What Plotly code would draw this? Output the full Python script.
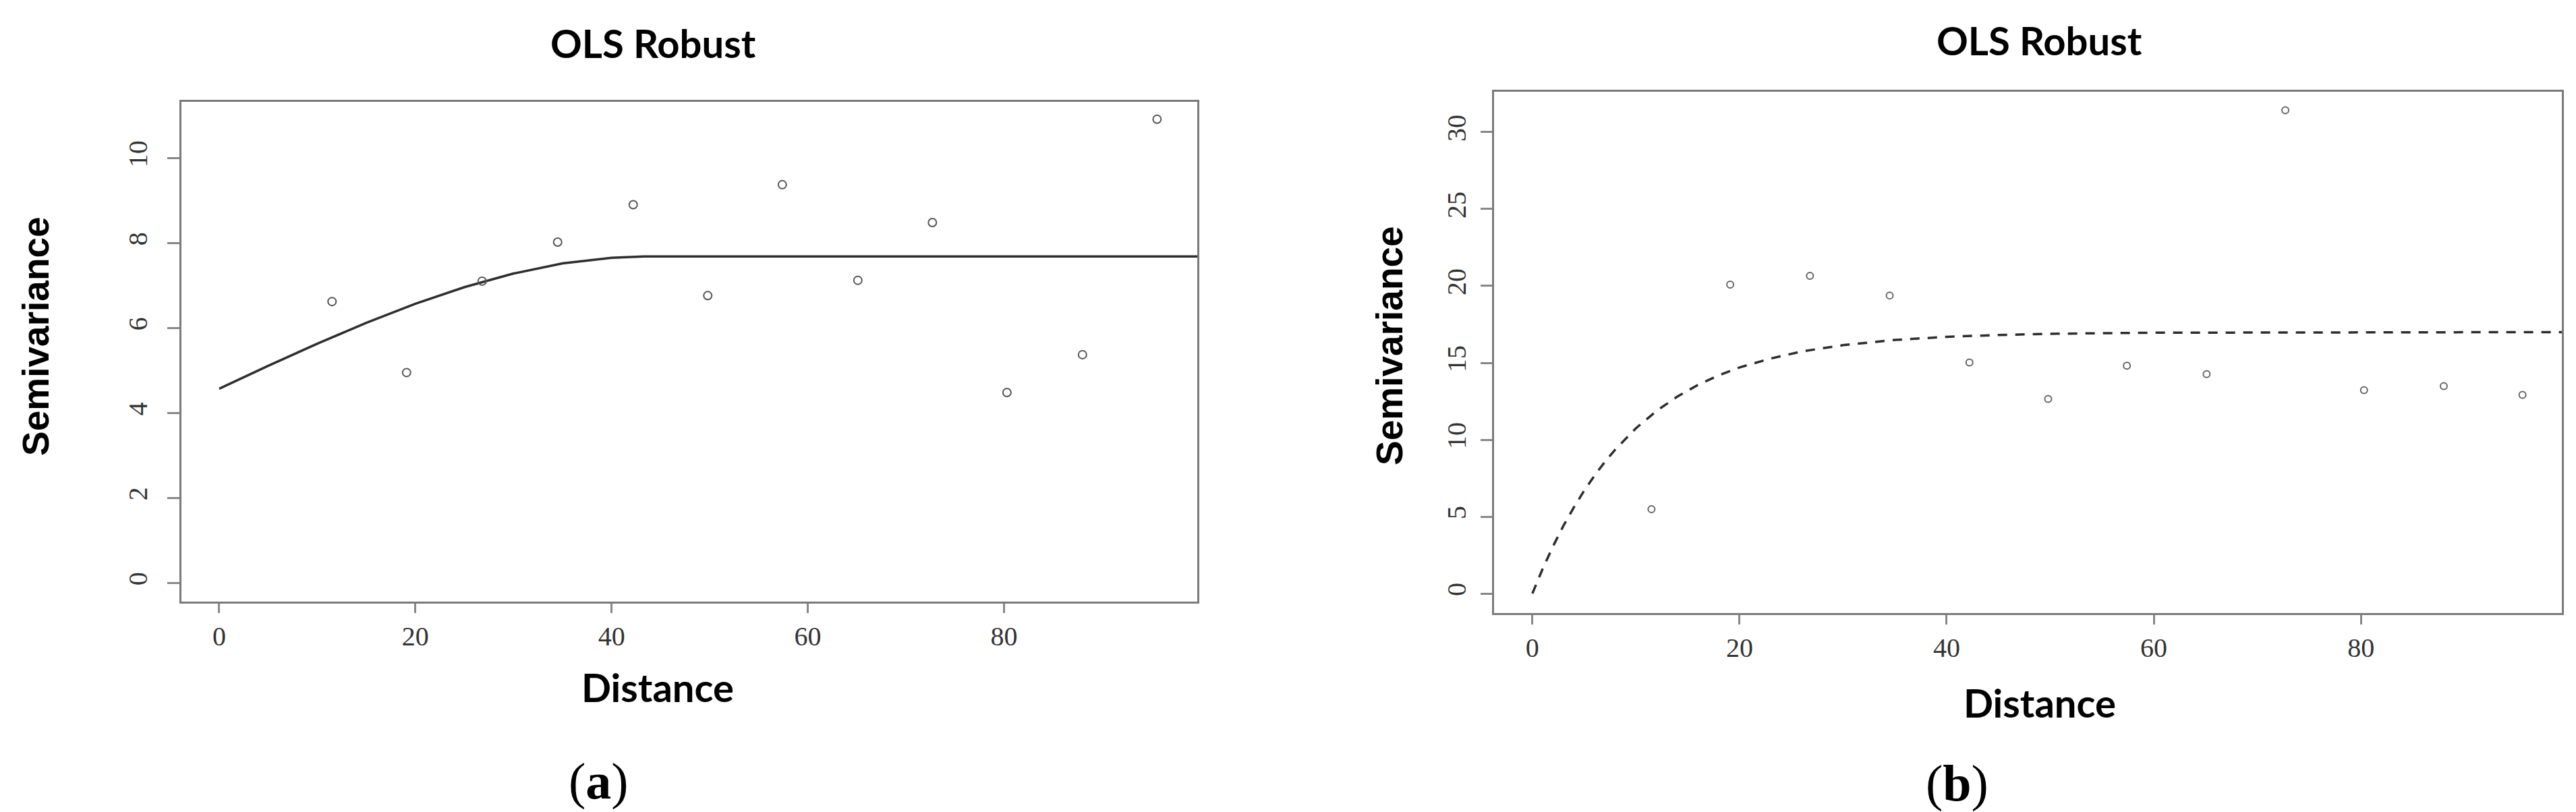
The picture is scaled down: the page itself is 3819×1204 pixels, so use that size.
import plotly.graph_objects as go

# ---- data ----
lags = [11.5, 19.1, 26.8, 34.5, 42.2, 49.8, 57.4, 65.1, 72.7, 80.3, 88.0, 95.6]
semiv_a = [6.62, 4.95, 7.10, 8.02, 8.90, 6.76, 9.37, 7.12, 8.48, 4.48, 5.37, 10.91]
semiv_b = [5.48, 20.09, 20.66, 19.38, 15.02, 12.65, 14.81, 14.27, 31.42, 13.22, 13.49, 12.92]

fit_x_a = [0, 5, 10, 15, 20, 25, 30, 35, 40, 43.3, 99.7]
fit_y_a = [4.57, 5.11, 5.63, 6.12, 6.57, 6.96, 7.28, 7.52, 7.65, 7.68, 7.68]

fit_x_b = [0, 1, 2, 3, 4, 5, 6, 7, 8, 10, 12, 14, 16, 18, 20, 23, 26, 30, 35, 40,
           45, 50, 60, 70, 80, 99.4]
fit_y_b = [0, 1.62, 3.08, 4.41, 5.6, 6.69, 7.67, 8.56, 9.36, 10.75, 11.88, 12.81,
           13.57, 14.19, 14.7, 15.28, 15.74, 16.15, 16.49, 16.69, 16.81, 16.89,
           16.96, 16.98, 16.99, 17.0]

x_ticks = [0, 20, 40, 60, 80]
y_ticks_a = [0, 2, 4, 6, 8, 10]
y_ticks_b = [0, 5, 10, 15, 20, 25, 30]

title_text = "OLS Robust"
x_title = "Distance"
y_title = "Semivariance"
panel_labels = ["(<b>a</b>)", "(<b>b</b>)"]

W, H = 3819, 1204

fig = go.Figure()

fig.add_trace(go.Scatter(x=fit_x_a, y=fit_y_a, mode="lines",
                         line=dict(color="#2e2e2e", width=3.5),
                         xaxis="x", yaxis="y", showlegend=False))
fig.add_trace(go.Scatter(x=lags, y=semiv_a, mode="markers",
                         marker=dict(symbol="circle-open", size=12,
                                     color="#555555", line=dict(width=2)),
                         xaxis="x", yaxis="y", showlegend=False))
fig.add_trace(go.Scatter(x=fit_x_b, y=fit_y_b, mode="lines",
                         line=dict(color="#2e2e2e", width=3.5, dash="14px,12px"),
                         xaxis="x2", yaxis="y2", showlegend=False))
fig.add_trace(go.Scatter(x=lags, y=semiv_b, mode="markers",
                         marker=dict(symbol="circle-open", size=10,
                                     color="#666666", line=dict(width=2)),
                         xaxis="x2", yaxis="y2", showlegend=False))

tickfont = dict(family="Liberation Serif", size=40, color="#333333")
common = dict(showline=True, mirror=True, linecolor="#7a7a7a", linewidth=3,
              showgrid=False, zeroline=False, ticks="outside", tickcolor="#888888",
              tickwidth=3, tickfont=tickfont)


def px2x(p):
    return p / W


def px2y(p):
    return 1 - p / H


fig.update_layout(
    width=W, height=H,
    margin=dict(l=0, r=0, t=0, b=0),
    paper_bgcolor="white", plot_bgcolor="white",
    xaxis=dict(domain=[px2x(261), px2x(1767)], range=[-3.85, 99.7],
               tickvals=x_ticks, ticklen=14, anchor="y", **common),
    yaxis=dict(domain=[px2y(884), px2y(143)], range=[-0.44, 11.32],
               tickvals=y_ticks_a, ticklen=18, tickangle=-90,
               ticklabelstandoff=14, anchor="x", **common),
    xaxis2=dict(domain=[px2x(2207), px2x(3790)], range=[-3.7, 99.4],
                tickvals=x_ticks, ticklen=14, anchor="y2", **common),
    yaxis2=dict(domain=[px2y(901), px2y(128)], range=[-1.27, 32.63],
                tickvals=y_ticks_b, ticklen=17, tickangle=-90,
                ticklabelstandoff=6, anchor="x2", **common),
)

ann = []
title_font = dict(family="Lato", size=58, color="#000000")
for cx, cy in [(960, 56), (3015, 52)]:
    ann.append(dict(text="<b>" + title_text + "</b>", x=px2x(cx), y=px2y(cy),
                    xref="paper", yref="paper", showarrow=False,
                    xanchor="center", yanchor="middle", font=title_font))
for cx, cy in [(967, 1010), (3016, 1033)]:
    ann.append(dict(text="<b>" + x_title + "</b>", x=px2x(cx), y=px2y(cy),
                    xref="paper", yref="paper", showarrow=False,
                    xanchor="center", yanchor="middle", font=title_font))
for cx, cy in [(45, 491), (2052, 505)]:
    ann.append(dict(text="<b>" + y_title + "</b>", x=px2x(cx), y=px2y(cy),
                    xref="paper", yref="paper", showarrow=False, textangle=-90,
                    xanchor="center", yanchor="middle",
                    font=dict(family="Liberation Sans", size=55, color="#000000")))
for (cx, cy), lab in zip([(879, 1150), (2893, 1153)], panel_labels):
    ann.append(dict(text=lab, x=px2x(cx), y=px2y(cy),
                    xref="paper", yref="paper", showarrow=False,
                    xanchor="center", yanchor="middle",
                    font=dict(family="Liberation Serif", size=76, color="#000000")))
fig.update_layout(annotations=ann)

fig.write_html("out.html")
